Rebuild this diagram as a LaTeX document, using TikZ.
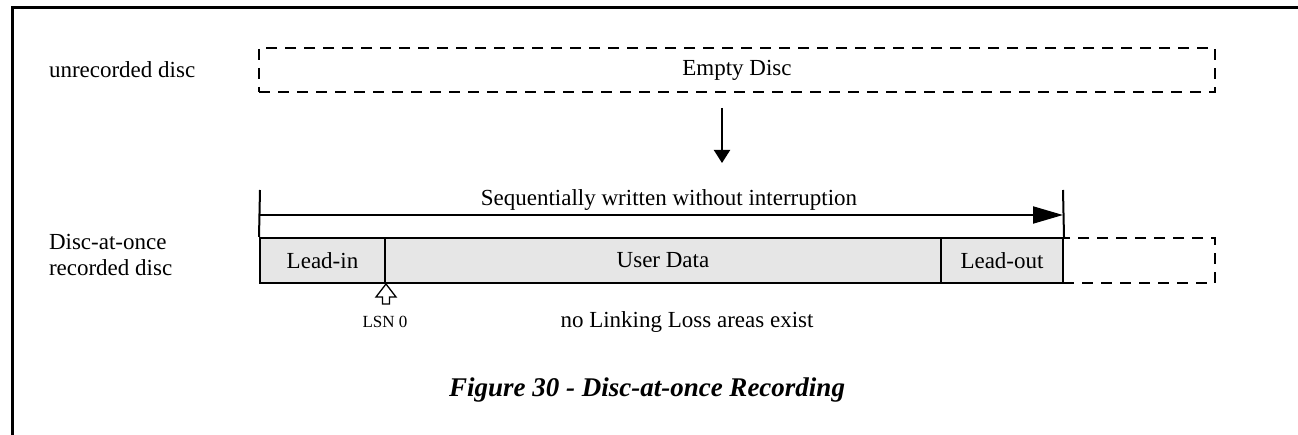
\documentclass[tikz,border=0pt]{standalone}
\usepackage{fontspec}
\setmainfont{Liberation Serif}
\usetikzlibrary{arrows.meta}
\definecolor{segfill}{HTML}{E6E6E6}
\begin{document}
\begin{tikzpicture}[x=1pt,y=-1pt,line width=2pt,
  txt/.style={font=\fontsize{23}{27}\selectfont,inner sep=0pt},
  lefttxt/.style={txt,anchor=west,align=left},
  dashbox/.style={draw,dash pattern=on 11pt off 8pt,inner sep=0pt},
  seg/.style={draw,fill=segfill,minimum height=45pt,inner sep=0pt,
    font=\fontsize{23}{27}\selectfont},
  fatarrow/.style={-{Triangle[length=30pt,width=17pt]}},
  downarrow/.style={-{Triangle[length=13pt,width=16pt]}}]
\useasboundingbox (0,0) rectangle (1298,435);

% page frame (top and left rules)
\coordinate (frameTL) at (12.5,7.5);
\coordinate (frameTR) at (1298,7.5);
\coordinate (frameBL) at (12.5,435);
\draw[line width=3pt] (frameBL) -- (frameTL) -- (frameTR);

% unrecorded disc
\node[lefttxt] (unrec) at (48,70) {unrecorded disc};
\node[dashbox,minimum width=956pt,minimum height=44pt,txt] (empty) at (737,70) {Empty Disc};

% transition arrow
\coordinate (downStart) at (722,108);
\coordinate (downEnd) at (722,163);
\draw[downarrow] (downStart) -- (downEnd);

% recorded disc
\node[lefttxt] (dao) at (48,255) {Disc-at-once\\[-1pt]recorded disc};

\node[dashbox,minimum width=152pt,minimum height=45pt] (rest) at (1139,260.5) {};
\node[seg,minimum width=125pt] (leadin) at (322.5,260.5) {Lead-in};
\node[seg,minimum width=556pt] (user) at (663,260.5) {User Data};
\node[seg,minimum width=122pt] (leadout) at (1002,260.5) {Lead-out};

% extent of the sequential write
\coordinate (markL) at (260,190);
\coordinate (markR) at (1063,190);
\draw (markL) -- (leadin.north west);
\draw (markR) -- (leadout.north east);
\coordinate (seqStart) at (260,215);
\coordinate (seqEnd) at (1063,215);
\draw[fatarrow] (seqStart) -- (seqEnd);
\node[txt] (seq) at (669,200) {Sequentially written without interruption};

% LSN 0 marker
\draw[line width=1.3pt,fill=white,line join=miter]
  (leadin.south east) -- ++(10,13) -- ++(-6.5,0) -- ++(0,7) -- ++(-7,0)
  -- ++(0,-7) -- ++(-6.5,0) -- cycle;
\node[font=\fontsize{17}{20}\selectfont,inner sep=0pt] (lsn) at (385,322) {LSN 0};

\node[txt] (nolink) at (687,322) {no Linking Loss areas exist};

% caption
\node[font=\fontsize{27}{32}\selectfont\bfseries\itshape,inner sep=0pt] (cap) at (647,390)
  {Figure 30 - Disc-at-once Recording};
\end{tikzpicture}
\end{document}
